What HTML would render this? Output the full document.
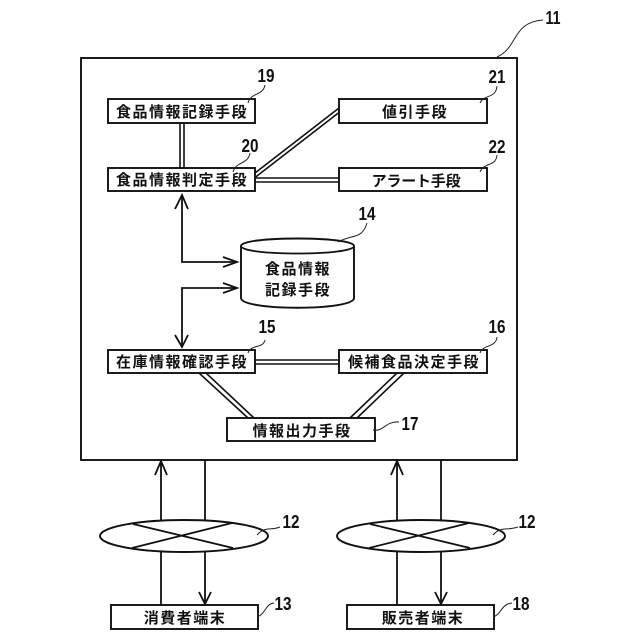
<!DOCTYPE html>
<html><head><meta charset="utf-8"><style>
html,body{margin:0;padding:0;background:#fff}
svg{display:block}
text{font-family:"Liberation Sans","Noto Sans CJK JP",sans-serif;fill:#111}
.j{font-size:15px;font-weight:700;text-anchor:middle;letter-spacing:1.5px}
.k{font-size:15px;font-weight:700;text-anchor:middle;letter-spacing:-0.2px}
.n{font-size:18px;font-weight:700;text-anchor:middle}
.b{fill:#fff;stroke:#111;stroke-width:1.9}
.l{fill:none;stroke:#111;stroke-width:1.8}
.d{fill:none;stroke:#111;stroke-width:1.6}
.t{fill:none;stroke:#222;stroke-width:1}
</style></head><body>
<svg width="640" height="640" viewBox="0 0 640 640" xmlns="http://www.w3.org/2000/svg">
<rect width="640" height="640" fill="#fff"/>
<rect x="81" y="58" width="436" height="402" class="b"/>

<!-- double lines -->
<path class="d" d="M180 123V168M184 123V168"/>
<path class="d" d="M255 173L339 108M255 177.500L339 112.500"/>
<path class="d" d="M255 178H339M255 182H339"/>
<path class="d" d="M255 360H339M255 364H339"/>
<path class="d" d="M199 373L248 418M206 373L254 418"/>
<path class="d" d="M397 373L350 418M404 373L357 418"/>

<rect x="108" y="99" width="147" height="24" class="b"/>
<rect x="108" y="168" width="147" height="23" class="b"/>
<rect x="339" y="99" width="148" height="24" class="b"/>
<rect x="339" y="168" width="148" height="23" class="b"/>
<rect x="108" y="350" width="147" height="23" class="b"/>
<rect x="339" y="350" width="148" height="23" class="b"/>
<rect x="227" y="418" width="148" height="23" class="b"/>
<rect x="111" y="605" width="147" height="24" class="b"/>
<rect x="347" y="605" width="147" height="24" class="b"/>

<text x="182" y="117" class="j">食品情報記録手段</text>
<text x="182" y="185" class="j">食品情報判定手段</text>
<text x="415" y="117" class="j">値引手段</text>
<text x="416" y="186" class="k">アラート手段</text>
<text x="182" y="367" class="j">在庫情報確認手段</text>
<text x="414" y="367" class="j">候補食品決定手段</text>
<text x="302" y="436" class="j">情報出力手段</text>
<text x="185" y="623" class="j">消費者端末</text>
<text x="423" y="623" class="j">販売者端末</text>

<!-- cylinder -->
<path d="M241 246C241 236 354 236 354 246V298C354 311 241 311 241 298Z" class="b"/>
<path d="M241 246C241 256 354 256 354 246" class="l"/>
<text x="298" y="274" class="j">食品情報</text>
<text x="298" y="295" class="j">記録手段</text>

<!-- arrows -->
<path class="l" d="M182 195V262H237"/>
<path class="l" d="M175 209L182 195L188 209M223 257L237 262L223 267"/>
<path class="l" d="M237 288H182V347"/>
<path class="l" d="M223 283L237 288L223 293M175 335L182 347L188 335"/>

<path class="l" d="M161 520V461M155 475L161 461L167 475"/>
<path class="l" d="M205 460V520"/>
<path class="l" d="M161 552V605"/>
<path class="l" d="M205 552V604M199 592L205 604L211 592"/>
<path class="l" d="M397 520V461M391 475L397 461L403 475"/>
<path class="l" d="M441 460V520"/>
<path class="l" d="M397 552V605"/>
<path class="l" d="M441 552V604M435 592L441 604L447 592"/>

<!-- ellipses -->
<ellipse cx="184" cy="536" rx="84" ry="16" class="b"/>
<path class="l" d="M133 524L233 548M132 548L232 523"/>
<ellipse cx="421" cy="536" rx="84" ry="16" class="b"/>
<path class="l" d="M370 524L470 548M369 548L469 523"/>

<!-- leaders -->
<path class="t" d="M497 57C518 48 512 22 543 20"/>
<path class="t" d="M248 103C251 92 263 96 265 85"/>
<path class="t" d="M233 172C236 161 248 165 250 153"/>
<path class="t" d="M480 103C484 94 496 99 497 86"/>
<path class="t" d="M480 172C484 162 496 167 497 155"/>
<path class="t" d="M338 242C352 234 362 240 367 223"/>
<path class="t" d="M248 353C251 344 263 349 265 340"/>
<path class="t" d="M480 353C483 344 496 348 497 337"/>
<path class="t" d="M373 430C384 432 385 421 399 422"/>
<path class="t" d="M257 535C265 526 270 531 280 527"/>
<path class="t" d="M493 535C501 526 506 531 518 527"/>
<path class="t" d="M257 617C266 614 265 604 274 603"/>
<path class="t" d="M493 617C502 614 501 604 512 603"/>

<!-- numbers -->
<text x="553" y="24" class="n" textLength="15" lengthAdjust="spacingAndGlyphs">11</text>
<text x="266" y="82" class="n" textLength="17" lengthAdjust="spacingAndGlyphs">19</text>
<text x="250" y="152" class="n" textLength="17" lengthAdjust="spacingAndGlyphs">20</text>
<text x="497" y="83" class="n" textLength="17" lengthAdjust="spacingAndGlyphs">21</text>
<text x="497" y="153" class="n" textLength="17" lengthAdjust="spacingAndGlyphs">22</text>
<text x="367" y="220" class="n" textLength="17" lengthAdjust="spacingAndGlyphs">14</text>
<text x="267" y="333" class="n" textLength="17" lengthAdjust="spacingAndGlyphs">15</text>
<text x="497" y="333" class="n" textLength="17" lengthAdjust="spacingAndGlyphs">16</text>
<text x="410" y="430" class="n" textLength="17" lengthAdjust="spacingAndGlyphs">17</text>
<text x="291" y="528" class="n" textLength="17" lengthAdjust="spacingAndGlyphs">12</text>
<text x="527" y="528" class="n" textLength="17" lengthAdjust="spacingAndGlyphs">12</text>
<text x="283" y="610" class="n" textLength="17" lengthAdjust="spacingAndGlyphs">13</text>
<text x="521" y="610" class="n" textLength="17" lengthAdjust="spacingAndGlyphs">18</text>
</svg>
</body></html>
